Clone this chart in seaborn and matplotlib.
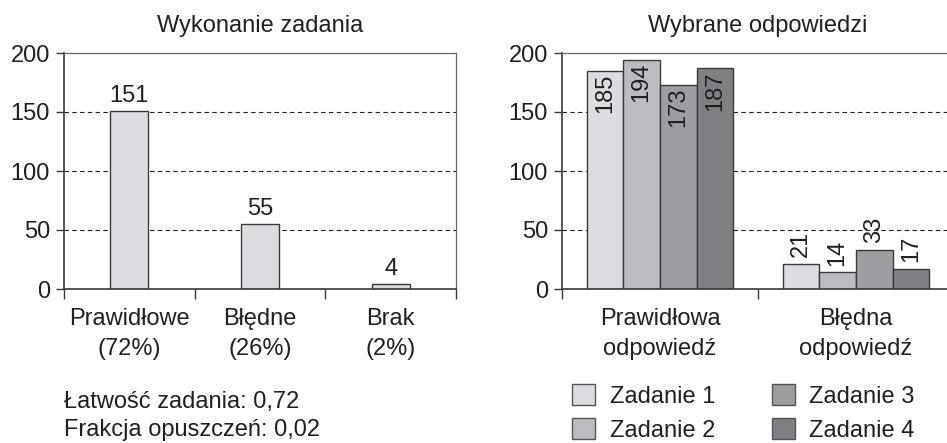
import matplotlib
matplotlib.use("Agg")
import matplotlib.pyplot as plt
import numpy as np
import pandas as pd
import seaborn as sns
from matplotlib.patches import Patch

# left chart: task performance
wyk_labels = ["Prawidłowe\n(72%)", "Błędne\n(26%)", "Brak\n(2%)"]
wyk_values = [151, 55, 4]

# right chart: chosen answers per task
odp_categories = ["Prawidłowa\nodpowiedź", "Błędna\nodpowiedź"]
zadania = ["Zadanie 1", "Zadanie 2", "Zadanie 3", "Zadanie 4"]
odp_values = {
    "Zadanie 1": [185, 21],
    "Zadanie 2": [194, 14],
    "Zadanie 3": [173, 33],
    "Zadanie 4": [187, 17],
}
summary_lines = ["Łatwość zadania: 0,72", "Frakcja opuszczeń: 0,02"]

sns.set_style("white")
plt.rcParams["font.family"] = ["Liberation Sans", "DejaVu Sans"]
TXT = "#231f20"
EDGE = "#3a3a3a"
palette = ["#dcdde0", "#bbbcbf", "#9d9ea1", "#7f8084"]
FS = 17

W, H = 947, 443
fig = plt.figure(figsize=(W / 100, H / 100), dpi=100)
ax1 = fig.add_axes([64 / W, 1 - 289 / H, 392 / W, 236 / H])
ax2 = fig.add_axes([562 / W, 1 - 289 / H, 392 / W, 236 / H])


def style_axes(ax, n):
    ax.set_ylim(0, 200)
    ax.set_xlim(-0.5, n - 0.5)
    ax.set_yticks([0, 50, 100, 150, 200])
    ax.tick_params(axis="y", direction="out", length=6, width=1, color=EDGE,
                   labelsize=FS, labelcolor=TXT, pad=4, left=True)
    ax.set_xticks(range(n))
    ax.tick_params(axis="x", which="major", length=0, labelsize=FS,
                   labelcolor=TXT, pad=14)
    ax.set_xticks(np.arange(-0.5, n, 1.0), minor=True)
    ax.tick_params(axis="x", which="minor", direction="out", length=7,
                   width=1, color=EDGE, bottom=True)
    for lbl in ax.get_xticklabels():
        lbl.set_linespacing(1.42)
    for y in (50, 100, 150):
        ax.axhline(y, color="#222222", lw=0.8, ls=(0, (4, 3)), zorder=0)
    for s in ("left", "bottom"):
        ax.spines[s].set_color(EDGE)
        ax.spines[s].set_linewidth(1.2)
    for s in ("top", "right"):
        ax.spines[s].set_color("#666666")
        ax.spines[s].set_linewidth(0.9)
    ax.set_xlabel("")
    ax.set_ylabel("")


# left chart
df1 = pd.DataFrame({"kat": wyk_labels, "n": wyk_values})
sns.barplot(data=df1, x="kat", y="n", ax=ax1, color=palette[0], width=0.29,
            edgecolor=EDGE, linewidth=1, saturation=1, zorder=2)
style_axes(ax1, len(wyk_labels))
ax1.set_title("Wykonanie zadania", fontsize=17, color=TXT, pad=15)
for p, v in zip(ax1.patches, wyk_values):
    ax1.annotate(str(v), (p.get_x() + p.get_width() / 2, v),
                 xytext=(0, 3), textcoords="offset points",
                 ha="center", va="bottom", fontsize=FS, color=TXT)

# right chart
df2 = pd.DataFrame([
    {"kat": c, "zad": z, "n": odp_values[z][i]}
    for z in zadania for i, c in enumerate(odp_categories)
])
sns.barplot(data=df2, x="kat", y="n", hue="zad", hue_order=zadania,
            palette=palette, ax=ax2, width=0.745, edgecolor=EDGE,
            linewidth=1, saturation=1, legend=False, zorder=2)
style_axes(ax2, len(odp_categories))
ax2.set_title("Wybrane odpowiedzi", fontsize=17, color=TXT, pad=15)
for cont, z in zip(ax2.containers, zadania):
    for i, p in enumerate(cont):
        v = odp_values[z][i]
        x = p.get_x() + p.get_width() / 2
        if i == 0:
            ax2.annotate(str(v), (x, v), xytext=(0, -2),
                         textcoords="offset points", rotation=90,
                         ha="center", va="top", fontsize=FS, color=TXT)
        else:
            ax2.annotate(str(v), (x, v), xytext=(0, 5),
                         textcoords="offset points", rotation=90,
                         ha="center", va="bottom", fontsize=FS, color=TXT)

# summary text under left chart
fig.text(64 / W, 1 - 402 / H, summary_lines[0], fontsize=FS, color=TXT,
         ha="left", va="center")
fig.text(64 / W, 1 - 430 / H, summary_lines[1], fontsize=FS, color=TXT,
         ha="left", va="center")

# legend under right chart
handles = [Patch(facecolor=c, edgecolor="#555555", lw=1) for c in palette]
fig.legend(handles, zadania, ncol=2, frameon=False, fontsize=FS,
           labelcolor=TXT, loc="center left",
           bbox_to_anchor=(560 / W, 1 - 413 / H),
           handlelength=1.0, handleheight=1.0, handletextpad=0.6,
           columnspacing=2.4, labelspacing=0.45, borderpad=0)

fig.savefig("out.png", dpi=100)
